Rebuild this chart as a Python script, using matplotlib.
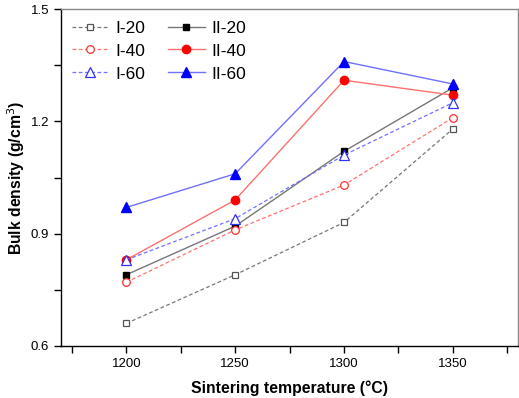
import matplotlib
matplotlib.use("Agg")
import matplotlib.pyplot as plt
from matplotlib.ticker import MultipleLocator

plt.rcParams['font.family'] = ['Liberation Sans', 'DejaVu Sans']

temps = [1200, 1250, 1300, 1350]
I_20 = [0.66, 0.79, 0.93, 1.18]
II_20 = [0.79, 0.92, 1.12, 1.29]
I_40 = [0.77, 0.91, 1.03, 1.21]
II_40 = [0.83, 0.99, 1.31, 1.27]
I_60 = [0.83, 0.94, 1.11, 1.25]
II_60 = [0.97, 1.06, 1.36, 1.30]

fig = plt.figure(figsize=(5.19, 3.98), dpi=100)
ax = fig.add_axes([0.1175, 0.131, 0.881, 0.846])

dash = (0, (3, 2))
h1, = ax.plot(temps, I_20, linestyle=dash, color='#777777', lw=0.9, marker='s', ms=4.8,
              mfc='white', mec='#555555', mew=0.9, label='I-20')
h2, = ax.plot(temps, II_20, linestyle='-', color='#777777', lw=1.0, marker='s', ms=5,
              mfc='black', mec='black', label='II-20')
h3, = ax.plot(temps, I_40, linestyle=dash, color='#ff7070', lw=0.9, marker='o', ms=5.5,
              mfc='white', mec='#ff3030', mew=0.9, label='I-40')
h4, = ax.plot(temps, II_40, linestyle='-', color='#ff7070', lw=1.0, marker='o', ms=6,
              mfc='red', mec='red', label='II-40')
h5, = ax.plot(temps, I_60, linestyle=dash, color='#7070ff', lw=0.9, marker='^', ms=6.5,
              mfc='white', mec='#3030ff', mew=0.9, label='I-60')
h6, = ax.plot(temps, II_60, linestyle='-', color='#7070ff', lw=1.0, marker='^', ms=7,
              mfc='blue', mec='blue', label='II-60')

ax.set_xlim(1170, 1380)
ax.set_ylim(0.6, 1.5)
ax.xaxis.set_major_locator(MultipleLocator(50))
ax.xaxis.set_minor_locator(MultipleLocator(25))
ax.yaxis.set_major_locator(MultipleLocator(0.3))
ax.yaxis.set_minor_locator(MultipleLocator(0.15))
ax.yaxis.set_major_formatter(matplotlib.ticker.FormatStrFormatter('%.1f'))

ax.tick_params(axis='both', which='both', direction='out', labelsize=9.5,
               top=False, right=False)
ax.tick_params(axis='both', which='major', length=5, width=1)
ax.tick_params(axis='both', which='minor', length=5, width=1)

for s in ['left', 'bottom']:
    ax.spines[s].set_color('black')
    ax.spines[s].set_linewidth(1.0)
for s in ['top', 'right']:
    ax.spines[s].set_color('#888888')
    ax.spines[s].set_linewidth(1.0)

ax.set_xlabel('Sintering temperature (°C)', fontsize=11.3, fontweight='bold', labelpad=8)
ax.set_ylabel('Bulk density (g/cm$^3$)', fontsize=11.3, fontweight='bold', labelpad=3)

ax.legend(handles=[h1, h3, h5, h2, h4, h6], ncol=2, loc='upper left', frameon=False,
          fontsize=12.5, handlelength=2.1, columnspacing=1.3, handletextpad=0.4,
          labelspacing=0.45, borderaxespad=0.3, borderpad=0.35)

fig.savefig('out.png', dpi=100)
